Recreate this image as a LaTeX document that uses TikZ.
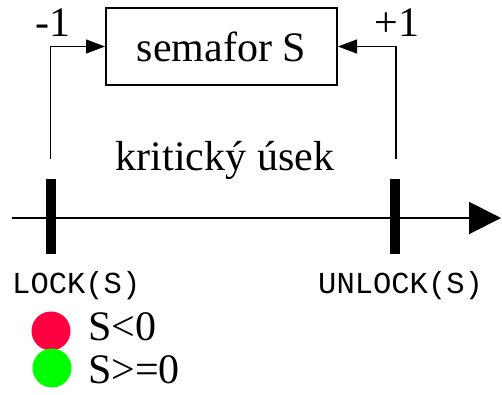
\documentclass[tikz,border=0pt]{standalone}
\usepackage{fontspec}
\setmainfont{Liberation Serif}
\setmonofont{Liberation Mono}
\usetikzlibrary{arrows.meta}
\definecolor{semred}{RGB}{255,0,64}
\definecolor{semgreen}{RGB}{0,255,0}

\begin{document}
\begin{tikzpicture}[x=1pt, y=-1pt,
  bigtxt/.style={font=\fontsize{42}{48}\selectfont, inner sep=0pt},
  codetxt/.style={font=\ttfamily\fontsize{30.5}{34}\selectfont, inner sep=0pt},
  tick/.style={fill=black, minimum width=10pt, minimum height=75pt, inner sep=0pt},
  lamp/.style={circle, minimum size=39pt, inner sep=0pt}]
\useasboundingbox (0,0) rectangle (502,394);

\node[draw, line width=2pt, minimum width=231pt, minimum height=77pt, bigtxt] at (221.5,46.5) (sem) {semafor S};

% time axis
\coordinate (t0) at (12,218);
\coordinate (t1) at (501,218);
\draw[line width=2pt, -{Triangle[length=32pt, width=32pt]}] (t0) -- (t1);

\node[tick] at (51,216.5) (lock) {};
\node[tick] at (395,216.5) (unlock) {};

\coordinate (lockup) at (50.5,159);
\coordinate (unlockup) at (396,159);
\path[draw, line width=1.3pt, -{Triangle[length=19pt, width=14pt]}] (lockup) |- (sem.west);
\path[draw, line width=1.3pt, -{Triangle[length=19pt, width=14pt]}] (unlockup) |- (sem.east);

\node[bigtxt, anchor=base] at (53,36) (minus) {-1};
\node[bigtxt, anchor=base] at (397,36) (plus) {+1};
\node[bigtxt, anchor=base] at (225,170) (crit) {kritický úsek};

\node[codetxt, anchor=base west] at (12,293) (locktxt) {LOCK(S)};
\node[codetxt, anchor=base west] at (318,293) (unlocktxt) {UNLOCK(S)};

% legend
\node[lamp, fill=semred] at (51,331) (red) {};
\node[lamp, fill=semgreen] at (52,368) (green) {};
\node[bigtxt, anchor=base west] at (88,340) (redtxt) {S<0};
\node[bigtxt, anchor=base west] at (88,383) (greentxt) {S>=0};

\end{tikzpicture}
\end{document}
